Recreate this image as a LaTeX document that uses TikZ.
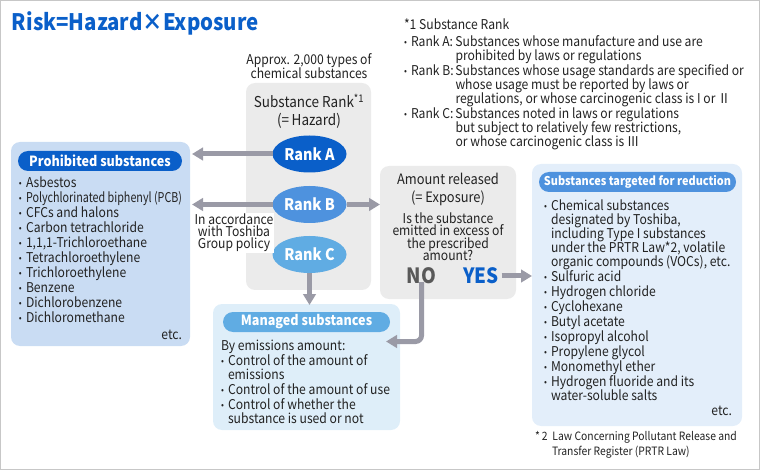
\documentclass[tikz,border=0pt]{standalone}
\usepackage{fontspec}
\setmainfont[FakeStretch=0.9]{Noto Sans CJK JP}
\usetikzlibrary{arrows.meta,positioning,shapes.geometric}
\normallineskiplimit=-20pt
\lineskiplimit=-20pt
\definecolor{rankAcol}{HTML}{0A5FC9}
\definecolor{rankBcol}{HTML}{4E92DE}
\definecolor{rankCcol}{HTML}{60ACE3}
\definecolor{arrcol}{HTML}{9A9AA6}
\definecolor{txtcol}{HTML}{222222}
\newcommand{\itm}{\makebox[7pt][l]{\raisebox{.8pt}{\scalebox{.7}{\textbullet}}}}
\newcommand{\hng}{\hspace*{7pt}}
\newcommand{\rnk}[1]{\makebox[44.5pt][l]{#1}}
\begin{document}
\begin{tikzpicture}[x=1pt, y=-1pt,
    every node/.style={inner sep=0pt, outer sep=0pt, text=txtcol, font=\fontsize{13.5}{14}\selectfont},
    box/.style={rectangle, rounded corners=9pt, anchor=north west},
    pill/.style={rectangle, rounded corners=10pt, minimum height=20pt, text=white, font=\fontsize{14}{14}\selectfont\bfseries},
    rank/.style={ellipse, minimum width=74pt, minimum height=37pt, text=white, font=\fontsize{16}{16}\selectfont\bfseries},
    lst/.style={anchor=north west, align=left},
    arr/.style={line width=5pt, draw=arrcol, -{Triangle[length=11pt, width=12.5pt]}}]
    \useasboundingbox (0,0) rectangle (760,470);
    \draw[draw=black!22, line width=1pt] (0.5,0.5) rectangle (759.5,469.5);

    \node[anchor=base west, text=rankAcol, font=\fontsize{22.7}{24}\selectfont\bfseries] (title) at (12,31) {Risk=Hazard×Exposure};

    % boxes
    \node[box, fill=black!8, minimum width=125pt, minimum height=207pt] (hazard) at (246,83) {};
    \node[box, fill=rankAcol!22, minimum width=179pt, minimum height=204pt] (prohibited) at (11,142) {};
    \node[box, fill=rankCcol!21, minimum width=187pt, minimum height=126pt] (managed) at (213,304) {};
    \node[box, fill=black!8, minimum width=136pt, minimum height=133pt] (exposure) at (380,166) {};
    \node[box, fill=rankBcol!16, minimum width=210pt, minimum height=262pt] (reduction) at (532,164) {};

    % titles of the boxes
    \node[pill, fill=rankAcol, minimum width=164pt] (prohibitedT) at (100,161) {Prohibited substances};
    \node[pill, fill=rankCcol, minimum width=167pt] (managedT) at (306.5,322) {Managed substances};
    \node[pill, fill=rankBcol, minimum width=197pt, font=\fontsize{12.1}{14}\selectfont\bfseries] (reductionT) at (637.5,182) {Substances targeted for reduction};

    \node[align=center] (approx) at (309,66) {Approx. 2,000 types of\\chemical substances};
    \node[align=center, font=\fontsize{15}{18}\selectfont] (hazardT) at (309,111) {Substance Rank\textsuperscript{*1}\\(=\,Hazard)};

    \node[rank, fill=rankAcol] (rankA) at (309.5,154) {Rank A};
    \node[rank, fill=rankBcol] (rankB) at (309.5,204.5) {Rank B};
    \node[rank, fill=rankCcol] (rankC) at (309.5,254.5) {Rank C};

    \node[fill=white, align=center, font=\fontsize{13.5}{12}\selectfont, inner sep=1pt] (policy) at (234,233) {In accordance\\with Toshiba\\Group policy};

    % arrows
    \draw[arr] (rankA) -- ([xshift=2pt]prohibited.east |- rankA);
    \draw[arr] (rankB) -- ([xshift=2pt]prohibited.east |- rankB);
    \draw[arr] (rankB) -- (exposure.west |- rankB);
    \draw[arr] (rankC) -- ([yshift=-1pt]rankC |- managed.north);

    % lists
    \node[lst] (prohibitedL) at (19,177) {\itm Asbestos\\[1pt]
      \itm\scalebox{.885}[1]{Polychlorinated biphenyl (PCB)}\\[1pt]
      \itm CFCs and halons\\[1pt]
      \itm Carbon tetrachloride\\[1pt]
      \itm 1,1,1-Trichloroethane\\[1pt]
      \itm Tetrachloroethylene\\[1pt]
      \itm Trichloroethylene\\[1pt]
      \itm Benzene\\[1pt]
      \itm Dichlorobenzene\\[1pt]
      \itm Dichloromethane};
    \node[anchor=south east] (prohibitedE) at (182,340) {etc.};

    \node[lst] (managedL) at (221,340) {By emissions amount:\\[1pt]
      \itm Control of the amount of\\
      \hng emissions\\[1pt]
      \itm Control of the amount of use\\[1pt]
      \itm Control of whether the\\
      \hng substance is used or not};

    \node[align=center, font=\fontsize{14.3}{18}\selectfont] (exposureT) at (448,189) {Amount released\\(= Exposure)};
    \node[align=center, font=\fontsize{13.5}{12.5}\selectfont] (question) at (448,236.5) {Is the substance\\emitted in excess of\\the prescribed\\amount?};
    \node[font=\fontsize{21}{20}\selectfont\bfseries, text=black!65] (no) at (421.5,276) {NO};
    \node[font=\fontsize{21}{20}\selectfont\bfseries, text=rankAcol] (yes) at (481,276) {YES};
    \coordinate (managedIn) at (386,341.5);
    \draw[arr] ([xshift=3pt]yes.east) -- (reduction.west |- yes);
    \draw[arr, rounded corners=6pt] ([yshift=2pt]no.south) |- (managedIn);

    \node[lst] (reductionL) at (544,200) {\itm Chemical substances\\
      \hng designated by Toshiba,\\
      \hng including Type I substances\\
      \hng under the PRTR Law*2, volatile\\
      \hng organic compounds (VOCs), etc.\\[1pt]
      \itm Sulfuric acid\\[1pt]
      \itm Hydrogen chloride\\[1pt]
      \itm Cyclohexane\\[1pt]
      \itm Butyl acetate\\[1pt]
      \itm Isopropyl alcohol\\[1pt]
      \itm Propylene glycol\\[1pt]
      \itm Monomethyl ether\\[1pt]
      \itm Hydrogen fluoride and its\\
      \hng water-soluble salts};
    \node[anchor=south east] (reductionE) at (732,416) {etc.};

    % notes
    \node[lst] (rankNote) at (404,19) {*1 Substance Rank\\[3pt]
      \itm\rnk{Rank A:}Substances whose manufacture and use are\\
      \hng\rnk{}prohibited by laws or regulations\\[1pt]
      \itm\rnk{Rank B:}Substances whose usage standards are specified or\\
      \hng\rnk{}whose usage must be reported by laws or\\
      \hng\rnk{}regulations, or whose carcinogenic class is I or Ⅱ\\[1pt]
      \itm\rnk{Rank C:}Substances noted in laws or regulations\\
      \hng\rnk{}but subject to relatively few restrictions,\\
      \hng\rnk{}or whose carcinogenic class is Ⅲ};
    \node[lst, font=\fontsize{11.5}{15}\selectfont] (lawNote) at (535,431) {*\,2\hspace{5pt}Law Concerning Pollutant Release and\\
      \hspace*{17pt}Transfer Register (PRTR Law)};
\end{tikzpicture}
\end{document}
